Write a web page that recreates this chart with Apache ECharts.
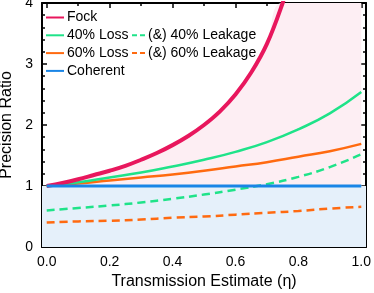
<!DOCTYPE html>
<html><head><meta charset="utf-8">
<script src="https://cdn.jsdelivr.net/npm/echarts@6/dist/echarts.min.js"></script>
<style>html,body{margin:0;padding:0;background:#fff}#c{width:374px;height:293px}</style>
</head><body><div id="c"></div>
<script>
// data
const etaFock = [0,0.05,0.1,0.15,0.2,0.25,0.3,0.35,0.4,0.45,0.5,0.55,0.6,0.65,0.7,0.75,0.77];
const fock    = [1.00,1.05,1.11,1.18,1.25,1.33,1.43,1.54,1.67,1.82,2.00,2.22,2.50,2.86,3.33,4.00,4.35];
const etaFill = [0,0.05,0.1,0.15,0.2,0.25,0.3,0.35,0.4,0.45,0.5,0.55,0.6,0.65,0.7,0.75,1.0];
const fockFill= [1.00,1.05,1.11,1.18,1.25,1.33,1.43,1.54,1.67,1.82,2.00,2.22,2.50,2.86,3.33,4.00,4.00];
const eta     = [0,0.1,0.2,0.3,0.4,0.5,0.6,0.7,0.8,0.9,1.0];
const loss40  = [1.00,1.06,1.14,1.22,1.32,1.43,1.56,1.72,1.93,2.19,2.54];
const loss60  = [1.00,1.04,1.09,1.14,1.19,1.25,1.32,1.39,1.48,1.57,1.69];
const leak40  = [0.60,0.64,0.68,0.73,0.79,0.86,0.94,1.03,1.15,1.31,1.52];
const leak60  = [0.40,0.42,0.43,0.45,0.48,0.50,0.53,0.56,0.59,0.63,0.66];
const etaCoh  = [0,1.0];
const coherent= [1,1];
const xMajor = [0,0.2,0.4,0.6,0.8,1.0];
const xMinor = [0.1,0.3,0.5,0.7,0.9];
const yMajor = [0,1,2,3,4];
const yMinor = [0.2,0.4,0.6,0.8,1.2,1.4,1.6,1.8,2.2,2.4,2.6,2.8,3.2,3.4,3.6,3.8];

const zip = (xs, ys) => xs.map((x,i)=>[x,ys[i]]);
const FONT = 'Liberation Sans';
const C = {fock:'#e8175d', green:'#1fe389', orange:'#ff6a10', blue:'#1a85e6'};

function xAx(pos, vals, len, show, extra){
  return Object.assign({type:'value', position:pos, min:-0.015, max:1.015,
    axisLine:{show:show, onZero:false, lineStyle:{color:'#000', width:2}},
    axisTick:{show:true, inside:true, length:len, customValues:vals, lineStyle:{color:'#000', width:1.5}},
    axisLabel:{show:false}, splitLine:{show:false}}, extra||{});
}
function yAx(pos, vals, len, show, extra){
  return Object.assign({type:'value', position:pos, min:0, max:4,
    axisLine:{show:show, onZero:false, lineStyle:{color:'#000', width:2}},
    axisTick:{show:true, inside:true, length:len, customValues:vals, lineStyle:{color:'#000', width:1.5}},
    axisLabel:{show:false}, splitLine:{show:false}}, extra||{});
}

const chart = echarts.init(document.getElementById('c'), null, {renderer:'canvas'});
chart.setOption({
  animation:false,
  grid:{left:42, right:8, top:3, bottom:46, containLabel:false, outerBoundsMode:'none'},
  legend:[
    {orient:'vertical', left:45, top:10.5, padding:0, itemGap:3.8, itemWidth:18, itemHeight:14,
     itemStyle:{opacity:0},
     textStyle:{fontFamily:FONT, fontSize:14, color:'#000', padding:[0,0,0,-2]},
     data:['Fock','40% Loss','60% Loss','Coherent']},
    {orient:'vertical', left:131, top:28.3, padding:0, itemGap:3.8, itemWidth:14, itemHeight:14,
     itemStyle:{opacity:0},
     textStyle:{fontFamily:FONT, fontSize:14, color:'#000', padding:[0,0,0,-3]},
     data:[{name:'(&) 40% Leakage', lineStyle:{type:[5,3]}},
           {name:'(&) 60% Leakage', lineStyle:{type:[5,3]}}]}
  ],
  xAxis:[
    xAx('bottom', xMajor, 5, true, {
      axisLabel:{show:true, customValues:xMajor, margin:8, fontFamily:FONT, fontSize:14, color:'#000',
        formatter:v=>v.toFixed(1)},
      name:'Transmission Estimate (η)', nameLocation:'middle', nameGap:25,
      nameTextStyle:{fontFamily:FONT, fontSize:16, color:'#000'}}),
    xAx('bottom', xMinor, 3, false),
    xAx('top', xMajor, 5, true),
    xAx('top', xMinor, 3, false)
  ],
  yAxis:[
    yAx('left', yMajor, 5, true, {
      axisLabel:{show:true, customValues:yMajor, margin:9, fontFamily:FONT, fontSize:14, color:'#000'},
      name:'Precision Ratio', nameLocation:'middle', nameGap:24,
      nameTextStyle:{fontFamily:FONT, fontSize:16, color:'#000'}}),
    yAx('left', yMinor, 3, false),
    yAx('right', yMajor, 5, true),
    yAx('right', yMinor, 3, false)
  ],
  series:[
    {name:'fill', type:'line', data:zip(etaFill,fockFill), smooth:0.4, symbol:'none',
     lineStyle:{width:0, opacity:0}, areaStyle:{color:'#fdeef3', opacity:1, origin:1}, z:1, silent:true,
     markArea:{silent:true, itemStyle:{color:'#e5f0fa'}, data:[[{yAxis:0},{yAxis:1}]]}},
    {name:'(&) 60% Leakage', type:'line', data:zip(eta,leak60), smooth:true, symbol:'none', z:3,
     itemStyle:{color:C.orange}, lineStyle:{color:C.orange, width:2.5, type:[8,5]}},
    {name:'(&) 40% Leakage', type:'line', data:zip(eta,leak40), smooth:true, symbol:'none', z:3,
     itemStyle:{color:C.green}, lineStyle:{color:C.green, width:2.5, type:[8,5]}},
    {name:'60% Loss', type:'line', data:zip(eta,loss60), smooth:true, symbol:'none', z:4,
     itemStyle:{color:C.orange}, lineStyle:{color:C.orange, width:2.5}},
    {name:'40% Loss', type:'line', data:zip(eta,loss40), smooth:true, symbol:'none', z:4,
     itemStyle:{color:C.green}, lineStyle:{color:C.green, width:2.5}},
    {name:'Fock', type:'line', data:zip(etaFock,fock), smooth:0.4, symbol:'none', z:5,
     itemStyle:{color:C.fock}, lineStyle:{color:C.fock, width:4}},
    {name:'Coherent', type:'line', data:zip(etaCoh,coherent), symbol:'none', z:6,
     itemStyle:{color:C.blue}, lineStyle:{color:C.blue, width:3}}
  ]
});
</script></body></html>
